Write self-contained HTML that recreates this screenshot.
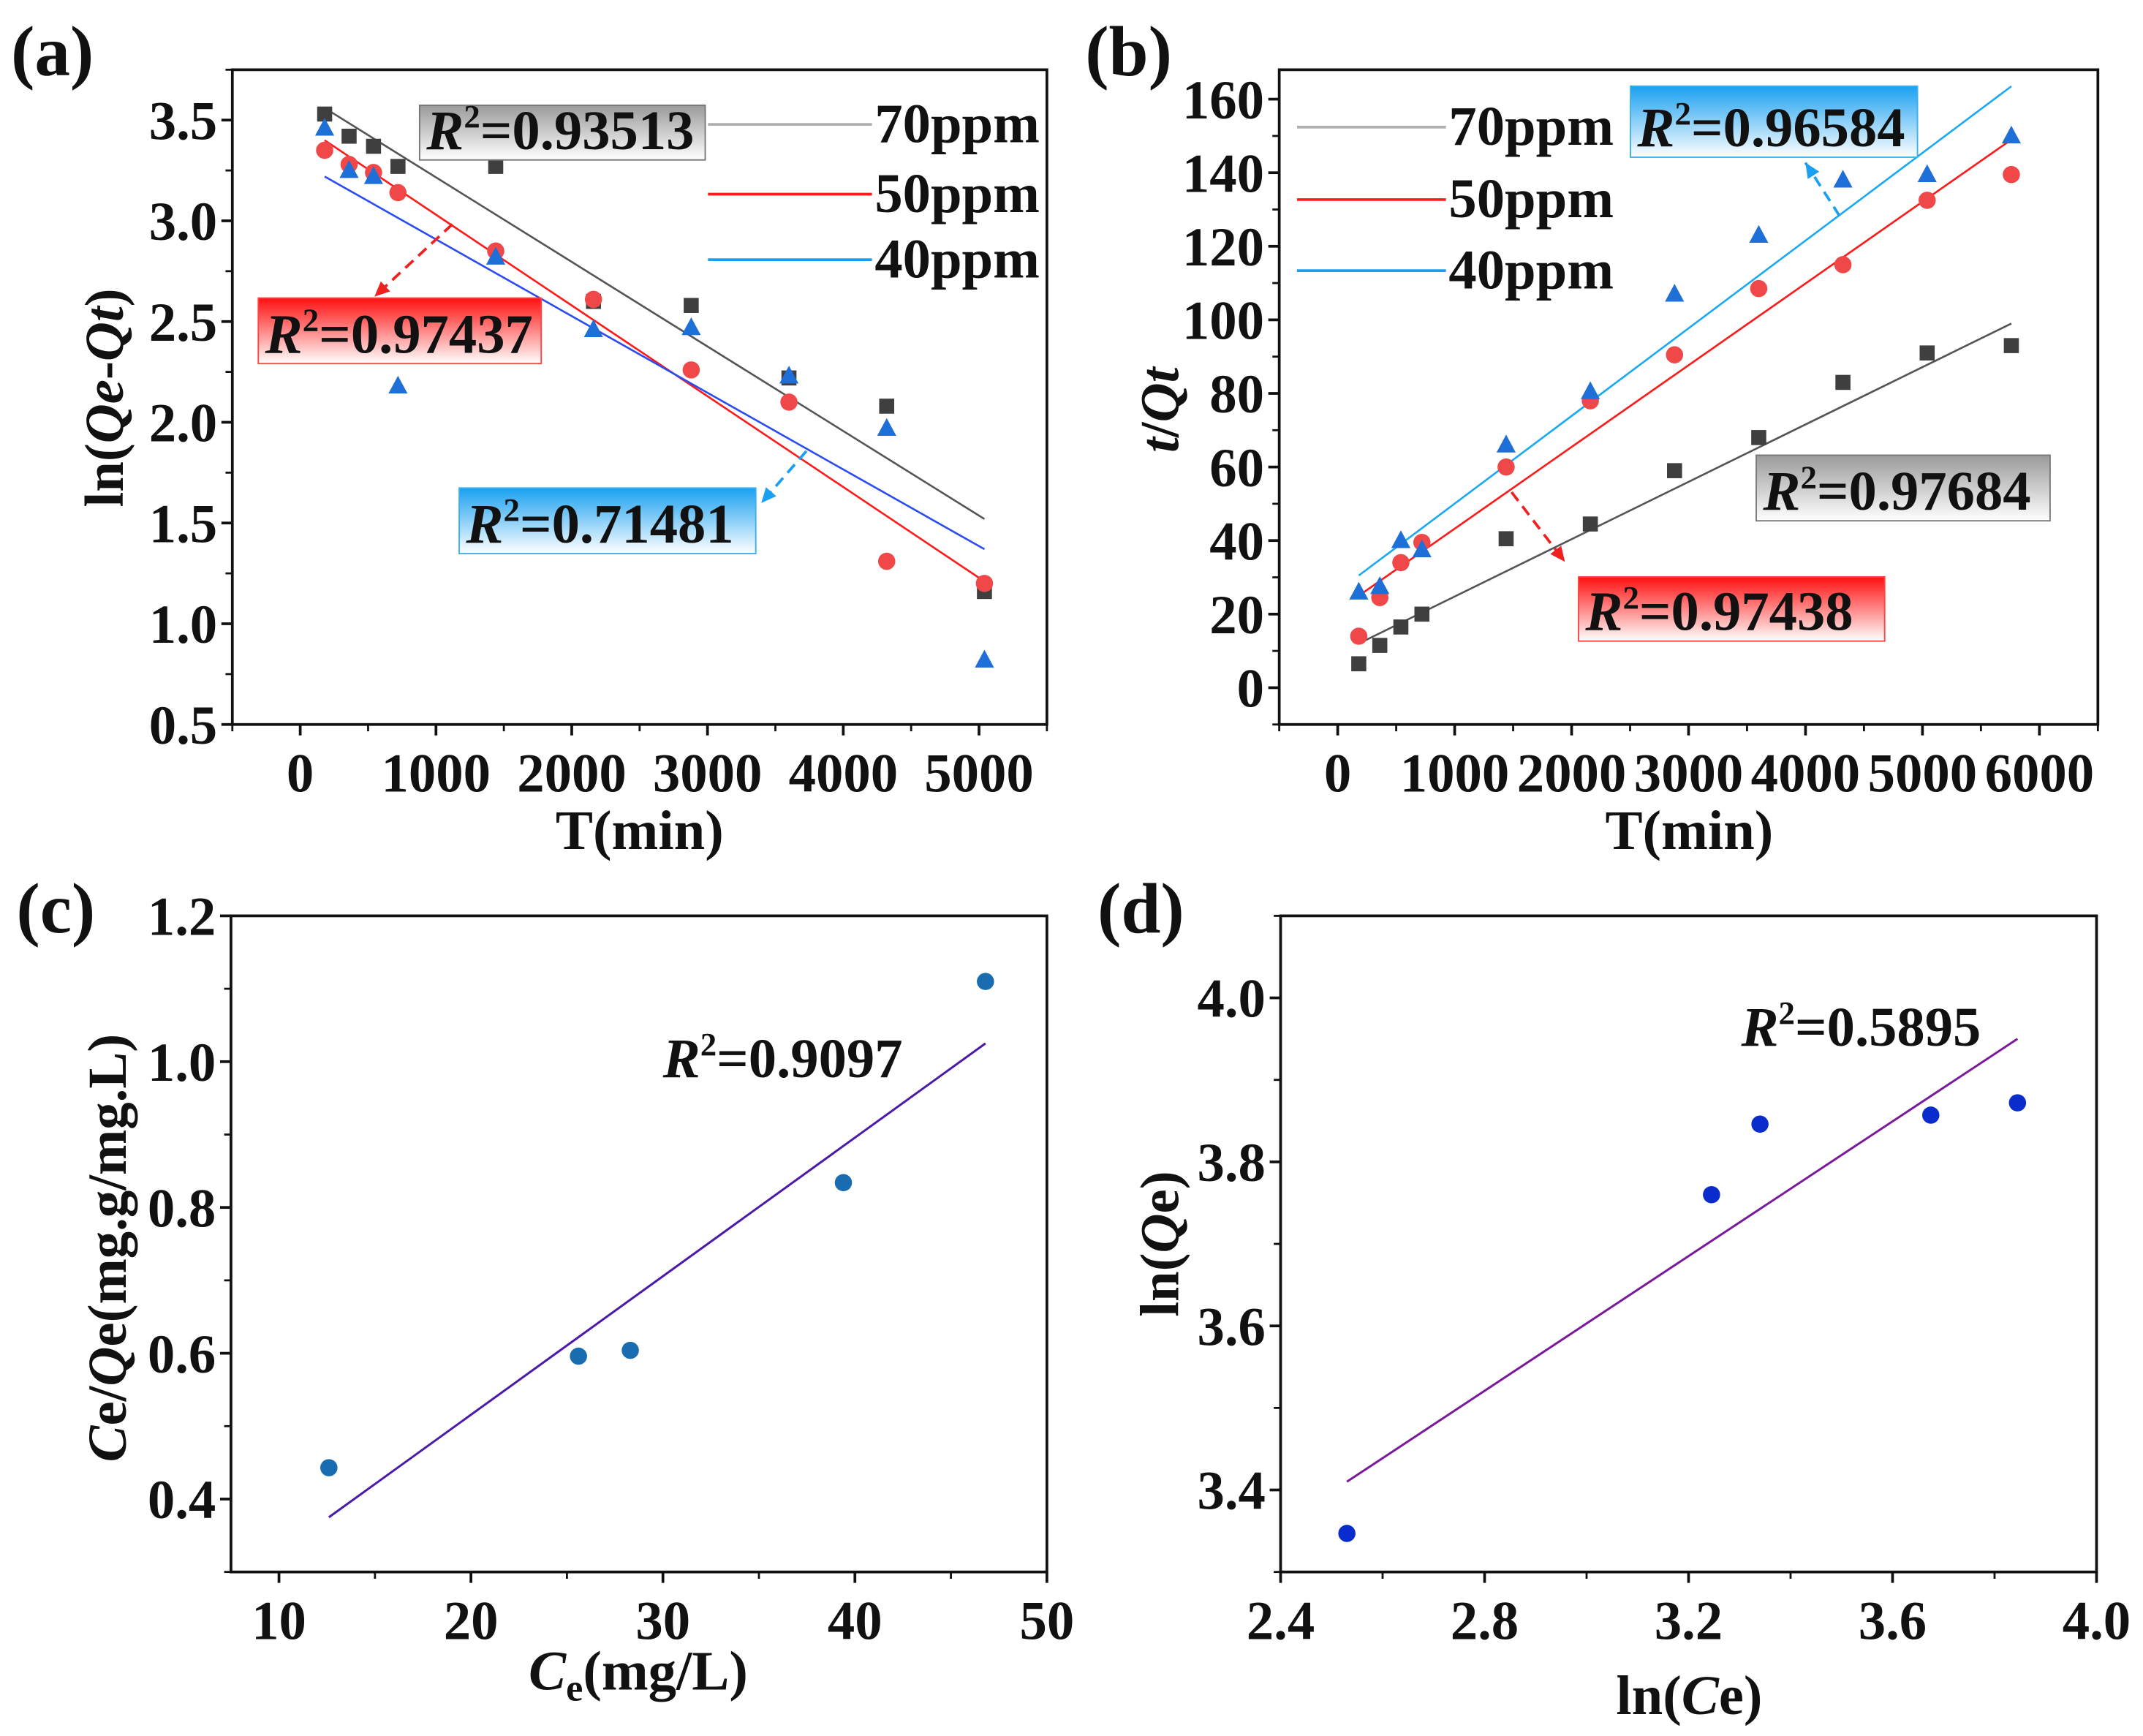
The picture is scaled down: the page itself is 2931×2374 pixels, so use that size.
<!DOCTYPE html>
<html><head><meta charset="utf-8"><style>
html,body{margin:0;padding:0;background:#fff}
svg{display:block}
text{font-family:"Liberation Serif",serif;font-weight:bold;fill:#111}
</style></head><body>
<svg id="fig" width="2931" height="2374" viewBox="0 0 1568 1270" xmlns="http://www.w3.org/2000/svg">
<defs>
<linearGradient id="gGray" x1="0" y1="0" x2="0" y2="1"><stop offset="0" stop-color="#9a9a9a"/><stop offset="1" stop-color="#ffffff"/></linearGradient>
<linearGradient id="gRed" x1="0" y1="0" x2="0" y2="1"><stop offset="0" stop-color="#ff1010"/><stop offset="1" stop-color="#ffffff"/></linearGradient>
<linearGradient id="gBlue" x1="0" y1="0" x2="0" y2="1"><stop offset="0" stop-color="#1aa0f0"/><stop offset="1" stop-color="#ffffff"/></linearGradient>
</defs>
</svg>
<script>
// ---- Panel (a) data ----
const aX=[180,360,540,720,1440,2160,2880,3600,4320,5040];
const a70=[3.53,3.42,3.37,3.27,3.27,2.60,2.58,2.22,2.08,1.16];
const a50=[3.35,3.28,3.24,3.14,2.85,2.61,2.26,2.10,1.31,1.20];
const a40=[3.46,3.25,3.22,2.18,2.82,2.46,2.47,2.23,1.97,0.82];
const aFitX=[180,5040];
const aFit70=[3.56,1.52];
const aFit50=[3.40,1.21];
const aFit40=[3.22,1.37];
const aXTicks=[0,1000,2000,3000,4000,5000];
const aYTicks=[0.5,1.0,1.5,2.0,2.5,3.0,3.5];
// ---- Panel (b) data ----
const bX=[180,360,540,720,1440,2160,2880,3600,4320,5040,5760];
const b70=[6.5,11.5,16.5,20,40.5,44.5,59,68,83,91,93];
const b50=[14,24.5,34,39.5,60,78,90.5,108.5,115,132.5,139.5];
const b40=[26,27.5,40,37.5,66,80.5,107,123,138,139.5,150];
const bFitX=[180,5760];
const bFit70=[12,99];
const bFit50=[25,149];
const bFit40=[30.5,163.5];
const bXTicks=[0,1000,2000,3000,4000,5000,6000];
const bYTicks=[0,20,40,60,80,100,120,140,160];
// ---- Panel (c) data ----
const cX=[12.6,25.6,28.3,39.4,46.8];
const cY=[0.443,0.596,0.604,0.834,1.11];
const cFitX=[12.6,46.8];
const cFitY=[0.375,1.025];
const cXTicks=[10,20,30,40,50];
const cYTicks=[0.4,0.6,0.8,1.0,1.2];
// ---- Panel (d) data ----
const dX=[2.53,3.245,3.34,3.675,3.845];
const dY=[3.347,3.76,3.846,3.857,3.872];
const dFitX=[2.53,3.845];
const dFitY=[3.41,3.95];
const dXTicks=[2.4,2.8,3.2,3.6,4.0];
const dYTicks=[3.4,3.6,3.8,4.0];

const NS='http://www.w3.org/2000/svg';
const svg=document.getElementById('fig');
function el(tag,attrs,parent,txt){const e=document.createElementNS(NS,tag);for(const k in attrs)e.setAttribute(k,attrs[k]);if(txt!==undefined)e.textContent=txt;(parent||svg).appendChild(e);return e;}
function scale(d0,d1,p0,p1){return v=>p0+(v-d0)/(d1-d0)*(p1-p0);}
const TF=40;
function axes(g,box,sx,sy,xt,yt,xMinor,yMinor,fmtX,fmtY,xr,yr){
  const r=el('rect',{x:box.l,y:box.t,width:box.r-box.l,height:box.b-box.t,fill:'none',stroke:'#111','stroke-width':2},g);
  
  
  xt.forEach(v=>{const x=sx(v);
    const t=el('line',{x1:x,y1:box.b,x2:x,y2:box.b+8,stroke:'#111','stroke-width':2},g);
    
    const lb=el('text',{x:x,y:box.b+49,'text-anchor':'middle','font-size':TF},g,fmtX(v));
    });
  for(let v=xr[0];v<=xr[1]+1e-9;v+=xMinor){const x=sx(v);if(x<box.l-0.5||x>box.r+0.5)continue;
    el('line',{x1:x,y1:box.b,x2:x,y2:box.b+5,stroke:'#111','stroke-width':1.5},g);}
  yt.forEach(v=>{const y=sy(v);
    const t=el('line',{x1:box.l,y1:y,x2:box.l-8,y2:y,stroke:'#111','stroke-width':2},g);
    
    const lb=el('text',{x:box.l-11,y:y+14,'text-anchor':'end','font-size':TF},g,fmtY(v));
    });
  for(let v=yr[0];v<=yr[1]+1e-9;v+=yMinor){const y=sy(v);if(y<box.t-0.5||y>box.b+0.5)continue;
    el('line',{x1:box.l,y1:y,x2:box.l-5,y2:y,stroke:'#111','stroke-width':1.5},g);}
}
function sq(g,x,y,c){const e=el('rect',{x:x-5.5,y:y-5.5,width:11,height:11,fill:c},g);}
function ci(g,x,y,c,name){const e=el('circle',{cx:x,cy:y,r:6.3,fill:c},g);}
function tri(g,x,y,c){const e=el('polygon',{points:`${x},${y-7.5} ${x+7},${y+5.5} ${x-7},${y+5.5}`,fill:c},g);}
function fit(g,sx,sy,X,Y,c,w,name){const e=el('line',{x1:sx(X[0]),y1:sy(Y[0]),x2:sx(X[1]),y2:sy(Y[1]),stroke:c,'stroke-width':w||1.4},g);}
function r2box(g,x,y,w,h,grad,stroke,val,name){
  const bg=el('rect',{x:x,y:y,width:w,height:h,fill:'url(#'+grad+')',stroke:stroke,'stroke-width':1},g);
  
  const t=el('text',{x:x+5,y:y+h-8,'font-size':41},g);
  
  el('tspan',{'font-style':'italic'},t,'R');
  el('tspan',{'font-size':24,dy:-16},t,'2');
  el('tspan',{dy:16},t,'='+val);
}
function r2text(g,x,y,val,name){
  const t=el('text',{x:x,y:y,'font-size':41},g);
  
  el('tspan',{'font-style':'italic'},t,'R');
  el('tspan',{'font-size':24,dy:-16},t,'2');
  el('tspan',{dy:16},t,'='+val);
}
function arrow(g,x1,y1,x2,y2,c,name){
  const e=el('line',{x1:x1,y1:y1,x2:x2,y2:y2,stroke:c,'stroke-width':2,'stroke-dasharray':'8,5'},g);
  
  const a=Math.atan2(y2-y1,x2-x1),L=11,W=5;
  const bx=x2-L*Math.cos(a),by=y2-L*Math.sin(a);
  el('polygon',{points:`${x2},${y2} ${bx-W*Math.sin(a)},${by+W*Math.cos(a)} ${bx+W*Math.sin(a)},${by-W*Math.cos(a)}`,fill:c},g);
}
function legend(g,x1,x2,y,c,label){
  const l=el('line',{x1:x1,y1:y,x2:x2,y2:y,stroke:c,'stroke-width':2},g);
  
  const t=el('text',{x:x2+2,y:y+13,'font-size':41},g,label);
  
}
function label(g,x,y,txt,name,size){const t=el('text',{x:x,y:y,'font-size':size||42},g,txt);return t;}

const cSq='#3f3f3f',cCi='#f04848',cTr='#1e6fd8';

// ===== Panel (a) =====
{const g=el('g',{});
 const box={l:170,r:766,t:51,b:530};
 const sx=scale(-500,5500,box.l,box.r), sy=scale(0.5,3.75,box.b,box.t);
 axes(g,box,sx,sy,aXTicks,aYTicks,500,0.25,v=>String(v),v=>v.toFixed(1),[-500,5500],[0.5,3.75]);
 fit(g,sx,sy,aFitX,aFit70,'#555',1.4,'fit-line-70ppm');
 fit(g,sx,sy,aFitX,aFit50,'#ff1a1a',1.4,'fit-line-50ppm');
 fit(g,sx,sy,aFitX,aFit40,'#2a4cf0',1.4,'fit-line-40ppm');
 aX.forEach((x,i)=>sq(g,sx(x),sy(a70[i]),cSq));
 aX.forEach((x,i)=>ci(g,sx(x),sy(a50[i]),cCi,'point-50ppm'));
 aX.forEach((x,i)=>tri(g,sx(x),sy(a40[i]),cTr));
 r2box(g,307,77,209,40,'gGray','#777','0.93513','r2-label-70ppm');
 r2box(g,189,218,207,48,'gRed','#f44','0.97437','r2-label-50ppm');
 r2box(g,336,357,217,48,'gBlue','#3ab0f0','0.71481','r2-label-40ppm');
 arrow(g,331,164,274,217,'#f02020','arrow-50ppm');
 arrow(g,590,330,557,368,'#1aa0f0','arrow-40ppm');
 legend(g,518,638,91,'#b0b0b0','70ppm');
 legend(g,518,638,142,'#ff1a1a','50ppm');
 legend(g,518,638,190,'#1aa0f0','40ppm');
 label(g,8,55,'(a)','panel-label-a',52);
 const xl=label(g,468,621,'T(min)','x-axis-title',41);xl.setAttribute('text-anchor','middle');
 const yl=el('text',{x:0,y:0,'font-size':40,'text-anchor':'middle',transform:'translate(90,291) rotate(-90)'},g);
 
 el('tspan',{},yl,'ln(');el('tspan',{'font-style':'italic'},yl,'Qe');el('tspan',{},yl,'-');el('tspan',{'font-style':'italic'},yl,'Qt');el('tspan',{},yl,')');
}
// ===== Panel (b) =====
{const g=el('g',{});
 const box={l:936,r:1535,t:51,b:530};
 const sx=scale(-500,6500,box.l,box.r), sy=scale(-10,168,box.b,box.t);
 axes(g,box,sx,sy,bXTicks,bYTicks,500,10,v=>String(v),v=>String(v),[-500,6500],[-10,168]);
 fit(g,sx,sy,bFitX,bFit70,'#555',1.4,'fit-line-70ppm');
 fit(g,sx,sy,bFitX,bFit50,'#ff1a1a',1.4,'fit-line-50ppm');
 fit(g,sx,sy,bFitX,bFit40,'#1aa8f8',1.4,'fit-line-40ppm');
 bX.forEach((x,i)=>sq(g,sx(x),sy(b70[i]),cSq));
 bX.forEach((x,i)=>ci(g,sx(x),sy(b50[i]),cCi,'point-50ppm'));
 bX.forEach((x,i)=>tri(g,sx(x),sy(b40[i]),cTr));
 r2box(g,1193,63,210,52,'gBlue','#3ab0f0','0.96584','r2-label-40ppm');
 r2box(g,1285,333,215,48,'gGray','#777','0.97684','r2-label-70ppm');
 r2box(g,1155,422,224,47,'gRed','#f44','0.97438','r2-label-50ppm');
 arrow(g,1346,158,1321,119,'#1aa0f0','arrow-40ppm');
 arrow(g,1106,360,1145,411,'#f02020','arrow-50ppm');
 legend(g,949,1058,93,'#b0b0b0','70ppm');
 legend(g,949,1058,146,'#ff1a1a','50ppm');
 legend(g,949,1058,198,'#1aa0f0','40ppm');
 label(g,794,55,'(b)','panel-label-b',52);
 const xl=label(g,1236,621,'T(min)','x-axis-title',41);xl.setAttribute('text-anchor','middle');
 const yl=el('text',{x:0,y:0,'font-size':40,'text-anchor':'middle',transform:'translate(862,300) rotate(-90)'},g);
 
 el('tspan',{'font-style':'italic'},yl,'t');el('tspan',{},yl,'/');el('tspan',{'font-style':'italic'},yl,'Qt');
}
// ===== Panel (c) =====
{const g=el('g',{});
 const box={l:169,r:766,t:670,b:1150};
 const sx=scale(7.5,50,box.l,box.r), sy=scale(0.3,1.2,box.b,box.t);
 axes(g,box,sx,sy,cXTicks,cYTicks,5,0.1,v=>String(v),v=>v.toFixed(1),[10,50],[0.3,1.2]);
 fit(g,sx,sy,cFitX,cFitY,'#4a1aa8',1.6,'fit-line');
 cX.forEach((x,i)=>ci(g,sx(x),sy(cY[i]),'#1a6cb0','data-point'));
 r2text(g,485,788,'0.9097','r2-label');
 label(g,12,682,'(c)','panel-label-c',52);
 const xl=el('text',{x:467,y:1236,'font-size':41,'text-anchor':'middle'},g);
 
 el('tspan',{'font-style':'italic'},xl,'C');el('tspan',{'font-size':28,dy:8},xl,'e');el('tspan',{dy:-8},xl,'(mg/L)');
 const yl=el('text',{x:0,y:0,'font-size':40,'text-anchor':'middle',transform:'translate(92,913) rotate(-90)'},g);
 
 el('tspan',{'font-style':'italic'},yl,'C');el('tspan',{},yl,'e/');el('tspan',{'font-style':'italic'},yl,'Q');el('tspan',{},yl,'e(mg.g/mg.L)');
}
// ===== Panel (d) =====
{const g=el('g',{});
 const box={l:937,r:1534,t:670,b:1150};
 const sx=scale(2.4,4.0,box.l,box.r), sy=scale(3.3,4.1,box.b,box.t);
 axes(g,box,sx,sy,dXTicks,dYTicks,0.2,0.1,v=>v.toFixed(1),v=>v.toFixed(1),[2.4,4.0],[3.3,4.1]);
 fit(g,sx,sy,dFitX,dFitY,'#7a1a9a',1.6,'fit-line');
 dX.forEach((x,i)=>ci(g,sx(x),sy(dY[i]),'#0a2ccc','data-point'));
 r2text(g,1274,765,'0.5895','r2-label');
 label(g,803,682,'(d)','panel-label-d',52);
 const xl=el('text',{x:1236,y:1254,'font-size':41,'text-anchor':'middle'},g);
 
 el('tspan',{},xl,'ln(');el('tspan',{'font-style':'italic'},xl,'C');el('tspan',{},xl,'e)');
 const yl=el('text',{x:0,y:0,'font-size':40,'text-anchor':'middle',transform:'translate(862,910) rotate(-90)'},g);
 
 el('tspan',{},yl,'ln(');el('tspan',{'font-style':'italic'},yl,'Q');el('tspan',{},yl,'e)');
}
</script>
</body></html>
